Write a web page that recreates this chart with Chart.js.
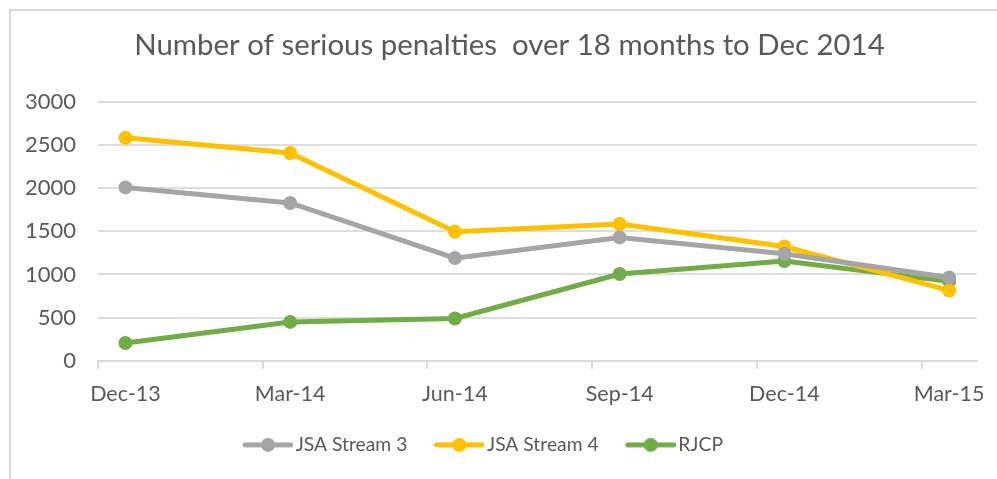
<!DOCTYPE html>
<html>
<head>
<meta charset="utf-8">
<script src="https://cdn.jsdelivr.net/npm/chart.js@4"></script>
<style>
  html, body { margin: 0; padding: 0; background: #fff; }
  #wrap { position: relative; width: 997px; height: 479px; overflow: hidden; }
  #frame { position: absolute; left: 9px; top: 9px; width: 1100px; height: 600px;
           border-top: 2px solid #d9d9d9; border-left: 2px solid #d9d9d9; box-sizing: border-box; }
  canvas { position: absolute; left: 0; top: 0; }
</style>
</head>
<body>
<div id="wrap">
  <div id="frame"></div>
  <canvas id="c" width="997" height="479"></canvas>
</div>
<script>
// Monthly slots on the date axis (Excel "months" base unit)
const months = ["Dec-13","Jan-14","Feb-14","Mar-14","Apr-14","May-14","Jun-14","Jul-14",
                "Aug-14","Sep-14","Oct-14","Nov-14","Dec-14","Jan-15","Feb-15","Mar-15"];
// Dates of the observations
const obsDates = ["Dec-13","Mar-14","Jun-14","Sep-14","Dec-14","Mar-15"];
// Series values
const jsaStream3 = [2010, 1830, 1190, 1430, 1240, 965];
const jsaStream4 = [2585, 2410, 1495, 1585, 1325, 815];
const rjcp       = [205, 450, 490, 1005, 1155, 920];
// Y tick settings
const yMin = 0, yMax = 3000, yStep = 500;

const FONT = "Lato, 'Open Sans', sans-serif";
const TXT = "#595959";

// legend icon: line with a dot; blank area on the left provides spacing between items
function legendIcon(color) {
  const c = document.createElement('canvas');
  c.width = 74; c.height = 16;
  const g = c.getContext('2d');
  g.strokeStyle = color; g.lineWidth = 5; g.lineCap = 'round';
  g.beginPath(); g.moveTo(26, 8); g.lineTo(72, 8); g.stroke();
  g.fillStyle = color; g.beginPath(); g.arc(49, 8, 7, 0, Math.PI * 2); g.fill();
  return c;
}

function series(label, vals, color) {
  return {
    label: label,
    data: obsDates.map((d, i) => ({ x: d, y: vals[i] })),
    borderColor: color,
    backgroundColor: color,
    borderWidth: 5,
    pointRadius: 7,
    pointHoverRadius: 7,
    pointBorderWidth: 0,
    pointStyle: 'circle',
    tension: 0,
    spanGaps: true,
    legendIcon: legendIcon(color)
  };
}

const datasets = [
  series("JSA Stream 3", jsaStream3, "#a5a5a5"),
  series("JSA Stream 4", jsaStream4, "#ffc000"),
  series("RJCP", rjcp, "#70ad47")
];

// horizontal nudges for title and legend blocks (layout only)
const shiftPlugin = {
  id: 'shiftBlocks',
  afterLayout(chart) {
    const t = chart.titleBlock, l = chart.legend;
    if (t) { t.left += 20; t.right += 20; }
    if (l) {
      l.left -= 15; l.right -= 15;
      if (l.legendHitBoxes) l.legendHitBoxes.forEach(b => { b.left -= 15; });
    }
  }
};

new Chart(document.getElementById('c'), {
  type: 'line',
  data: { labels: months, datasets: datasets },
  plugins: [shiftPlugin],
  options: {
    responsive: false,
    animation: false,
    devicePixelRatio: 1,
    layout: { padding: { left: 0, right: 18, top: 0, bottom: 14.5 } },
    plugins: {
      tooltip: { enabled: false },
      title: {
        display: true,
        text: "Number of serious penalties  over 18 months to Dec 2014",
        color: TXT,
        font: { family: FONT, size: 29.4, weight: 'normal' },
        padding: { top: 28.2, bottom: 38.6 }
      },
      legend: {
        position: 'bottom',
        labels: {
          color: TXT,
          font: { family: FONT, size: 19.3 },
          usePointStyle: true,
          pointStyleWidth: 60,
          padding: 10,
          generateLabels: (chart) => chart.data.datasets.map((ds, i) => ({
            text: ds.label,
            fillStyle: ds.borderColor,
            strokeStyle: ds.borderColor,
            pointStyle: ds.legendIcon,
            lineWidth: 0,
            hidden: false,
            datasetIndex: i,
            fontColor: TXT
          }))
        }
      }
    },
    scales: {
      x: {
        type: 'category',
        offset: true,
        grid: {
          offset: true,
          drawOnChartArea: false,
          drawTicks: true,
          tickLength: 8,
          lineWidth: 2,
          color: (ctx) => (ctx.index % 3 === 0 && ctx.index < months.length) ? '#d9d9d9' : 'rgba(0,0,0,0)'
        },
        border: { display: true, color: '#d9d9d9', width: 2 },
        ticks: {
          autoSkip: false,
          maxRotation: 0,
          color: TXT,
          padding: 12,
          font: { family: FONT, size: 21.5 },
          callback: function (v, i) { return i % 3 === 0 ? months[i] : ''; }
        },
        afterFit: (s) => { s.height = 64.5; }
      },
      y: {
        min: yMin, max: yMax,
        grid: { color: '#dedede', lineWidth: 2, drawTicks: false },
        border: { display: false },
        ticks: {
          stepSize: yStep,
          color: TXT,
          padding: 22,
          font: { family: FONT, size: 22 },
          callback: (v) => String(v)
        },
        afterFit: (s) => { s.width = 98; }
      }
    }
  }
});
</script>
</body>
</html>
